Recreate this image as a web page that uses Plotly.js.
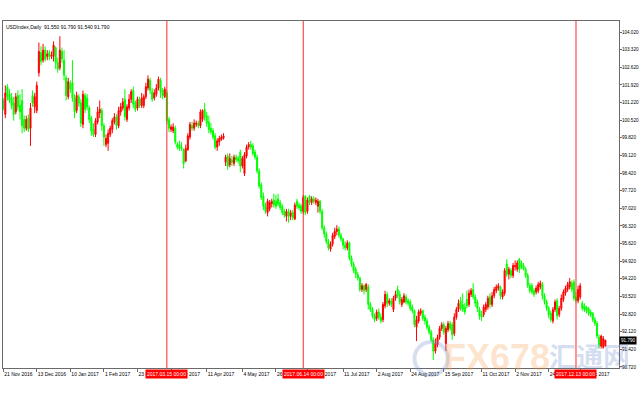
<!DOCTYPE html>
<html>
<head>
<meta charset="utf-8">
<script src="https://cdn.plot.ly/plotly-3.0.1.min.js"></script>
<style>html,body{margin:0;padding:0;background:#fff;}#chart{width:640px;height:400px;}</style>
</head>
<body>
<div id="chart"></div>
<script>
// ---- data (USDIndex, Daily) ----
const firstDay = '2016-11-17';
const holidays = ['2016-12-23','2016-12-26','2016-12-30','2017-01-02','2017-12-25','2018-01-01'];

const open = [101.10,101.45,101.30,100.75,101.85,101.55,101.40,101.20,100.85,101.50,
101.10,101.30,100.55,100.20,100.60,100.20,101.50,101.05,100.90,102.40,
103.20,102.90,103.30,103.05,103.20,103.05,103.05,103.40,102.80,102.60,
103.25,102.90,102.20,101.45,102.00,102.00,101.40,100.90,101.45,101.20,
100.35,101.50,101.40,101.00,100.60,100.15,99.95,100.45,100.80,100.90,
100.30,99.55,99.60,99.95,100.15,100.45,100.65,100.30,100.85,101.00,
101.35,100.55,101.00,101.35,101.70,101.20,101.00,101.35,101.10,101.10,
101.45,101.80,102.10,101.65,101.40,101.55,101.80,102.10,101.70,101.45,
101.60,100.55,100.15,100.10,100.20,99.55,99.55,99.45,99.35,98.90,
99.35,99.85,100.30,100.20,100.35,100.40,100.30,100.55,100.95,100.70,
100.45,100.20,100.10,99.90,99.45,99.65,99.75,99.80,98.85,99.10,
98.75,98.95,98.80,99.05,99.00,99.25,98.70,98.40,99.10,99.45,
99.55,99.50,99.25,99.05,98.50,97.95,97.50,97.10,96.85,97.00,
97.20,97.35,97.30,97.40,97.25,97.10,96.90,96.70,96.90,96.70,
96.85,96.60,97.30,97.15,97.10,96.90,97.50,96.90,97.50,97.25,
97.40,97.25,97.10,97.30,96.90,96.25,96.00,95.70,95.40,95.60,
95.90,96.10,96.20,95.95,95.80,95.55,95.45,95.65,95.05,94.80,
94.60,94.40,94.25,93.80,93.95,93.80,93.90,93.20,93.00,92.75,
92.65,92.90,92.70,92.60,93.15,93.60,93.25,93.35,93.00,93.45,
93.80,93.60,93.20,93.30,93.50,93.35,93.30,93.10,92.95,92.30,
92.55,92.85,92.95,92.70,92.55,92.30,92.10,91.80,91.35,91.60,
91.90,92.25,92.40,91.65,92.20,92.45,92.40,92.05,92.70,93.00,
93.35,93.20,93.10,93.40,93.20,93.60,93.80,93.50,93.30,93.00,
92.80,92.80,93.00,93.10,93.50,93.20,93.55,93.75,93.85,93.90,
93.50,93.65,94.80,94.40,94.55,94.35,94.70,94.60,95.00,94.85,
94.75,94.60,94.35,93.95,93.95,93.75,93.70,93.75,93.90,94.00,
93.55,93.30,93.05,92.85,92.55,93.00,93.35,92.80,93.05,93.40,
93.65,93.80,93.90,94.05,94.10,93.50,93.35,93.50,93.25,93.15,
93.10,93.05,92.90,92.85,92.60,92.45,91.90,91.55,91.50,91.55];

const high = [101.50,101.55,101.40,101.90,101.95,101.75,101.60,101.45,101.60,101.70,
101.55,101.75,100.70,100.70,100.75,101.20,101.70,101.60,102.05,103.60,
103.45,103.55,103.45,103.30,103.30,103.25,103.65,103.45,103.00,103.85,
103.40,103.30,102.30,102.20,102.10,102.90,101.55,101.65,101.55,101.35,
101.70,101.60,101.55,101.10,100.70,100.40,100.60,101.05,101.30,101.00,
100.40,99.95,100.15,100.30,100.60,100.80,100.75,101.05,101.20,101.40,
101.75,101.15,101.55,101.75,101.85,101.30,101.45,101.45,101.60,101.55,
102.00,102.30,102.20,101.80,101.75,101.95,102.25,102.20,101.80,101.85,
101.70,100.65,100.35,100.40,100.30,99.65,99.70,99.65,99.40,99.55,
100.00,100.45,100.45,100.55,100.50,100.50,100.95,100.95,101.20,100.85,
100.70,100.40,100.20,100.00,99.80,99.90,99.95,100.00,99.15,99.20,
99.20,99.10,99.15,99.15,99.10,99.35,99.10,99.25,99.55,99.65,
99.70,99.60,99.35,99.15,98.60,98.05,97.65,97.25,97.40,97.35,
97.40,97.60,97.55,97.60,97.35,97.20,97.00,97.00,97.00,96.95,
96.95,97.25,97.40,97.25,97.20,97.55,97.55,97.45,97.55,97.50,
97.50,97.45,97.40,97.35,97.00,96.35,96.10,95.80,95.70,96.05,
96.25,96.35,96.30,96.05,95.85,95.70,95.75,95.70,95.15,94.90,
94.70,94.50,94.30,94.05,94.00,94.05,94.00,93.30,93.10,92.85,
93.00,93.05,92.85,93.30,93.75,93.70,93.45,93.45,93.55,93.75,
93.95,93.75,93.50,93.65,93.60,93.45,93.40,93.20,93.00,92.75,
93.00,93.05,93.00,92.80,92.65,92.40,92.20,91.90,91.85,92.00,
92.35,92.50,92.50,92.35,92.55,92.55,92.50,92.85,93.10,93.40,
93.50,93.65,93.25,93.75,93.80,93.85,94.05,93.60,93.40,93.10,
92.95,93.20,93.30,93.55,93.65,93.70,93.90,94.00,94.05,93.95,
93.80,94.65,95.00,94.70,94.65,94.85,94.95,94.95,95.05,94.95,
94.85,94.70,94.45,94.05,94.05,93.85,93.95,94.10,94.15,94.10,
93.65,93.40,93.15,92.95,93.10,93.40,93.45,93.15,93.60,93.80,
93.95,94.10,94.25,94.15,94.20,93.70,93.95,94.05,93.35,93.25,
93.15,93.10,93.00,92.90,92.70,92.55,92.00,92.00,91.95,91.79];

const low = [101.00,101.10,100.90,100.60,101.30,101.20,100.95,100.50,100.75,100.90,
100.55,100.00,100.05,100.10,100.05,99.50,101.05,100.80,100.80,102.25,
102.70,102.80,102.85,102.90,102.90,102.95,102.85,102.55,102.40,102.50,
102.80,102.10,101.30,101.35,101.60,101.25,100.60,100.80,101.05,100.25,
100.20,100.80,100.90,100.40,99.90,99.85,99.85,100.35,100.60,100.10,
99.50,99.45,99.30,99.85,100.00,100.35,100.15,100.20,100.70,100.90,
100.50,100.45,100.90,101.20,101.00,100.85,100.90,101.00,101.00,101.00,
101.35,101.70,101.55,101.25,101.30,101.45,101.70,101.40,101.35,101.40,
100.35,100.05,100.05,100.00,99.55,99.35,99.30,99.30,98.60,98.85,
99.30,99.75,100.10,100.10,100.25,100.20,100.20,100.45,100.50,100.25,
100.00,99.95,99.75,99.35,99.30,99.50,99.70,99.75,98.70,98.55,
98.65,98.70,98.70,98.85,98.80,98.45,98.60,98.30,99.00,99.35,
99.35,99.10,98.95,98.40,97.80,97.35,96.95,96.80,96.70,96.90,
97.05,97.05,97.00,97.10,96.95,96.75,96.65,96.50,96.45,96.55,
96.55,96.55,97.00,96.95,96.80,96.80,96.75,96.80,97.15,97.15,
97.20,97.15,96.85,96.80,96.15,95.85,95.60,95.35,95.30,95.50,
95.80,95.95,95.85,95.70,95.40,95.35,95.35,94.95,94.70,94.45,
94.25,94.15,93.70,93.70,93.60,93.70,93.00,92.90,92.65,92.50,
92.55,92.60,92.45,92.50,93.05,93.10,93.15,93.10,92.90,93.35,
93.45,93.20,93.10,93.25,93.20,93.15,92.95,92.85,92.30,91.75,
92.45,92.75,92.55,92.40,92.20,92.00,91.70,91.00,91.25,91.50,
91.80,92.15,92.00,91.35,92.10,92.15,91.80,91.95,92.60,92.90,
92.95,92.90,92.80,93.05,93.10,93.50,93.40,93.10,92.90,92.60,
92.55,92.70,92.90,93.00,93.05,93.10,93.45,93.65,93.75,93.40,
93.40,93.55,94.30,94.20,94.25,94.25,94.55,94.50,94.45,94.60,
94.55,94.25,93.85,93.65,93.60,93.50,93.60,93.65,93.80,93.40,
93.20,92.95,92.65,92.50,92.45,92.90,92.60,92.70,92.95,93.30,
93.55,93.70,93.80,93.70,93.35,93.25,93.25,93.40,92.95,92.90,
92.85,92.75,92.70,92.50,92.35,91.85,91.45,91.45,91.45,91.54];

const close = [101.35,101.25,101.00,101.60,101.45,101.30,101.10,100.75,101.45,101.05,
100.85,100.30,100.20,100.55,100.15,101.00,101.20,101.45,101.90,103.25,
102.85,103.30,102.95,103.15,103.05,103.10,103.50,102.80,102.55,103.30,
102.95,102.30,101.50,102.05,101.75,101.40,100.85,101.50,101.20,100.40,
101.55,100.95,101.05,100.55,100.10,99.95,100.50,100.85,100.95,100.30,
99.85,99.80,100.00,100.20,100.50,100.65,100.30,100.90,101.05,101.25,
100.65,101.05,101.35,101.65,101.15,100.95,101.35,101.10,101.40,101.45,
101.85,102.15,101.70,101.35,101.60,101.80,102.15,101.65,101.50,101.75,
100.50,100.20,100.25,100.25,99.65,99.45,99.40,99.40,98.80,99.40,
99.90,100.35,100.20,100.40,100.40,100.30,100.85,100.90,100.65,100.40,
100.15,100.05,99.85,99.45,99.70,99.80,99.85,99.90,99.05,98.70,
99.00,98.85,99.05,98.95,98.90,98.70,99.00,99.15,99.45,99.55,
99.45,99.20,99.05,98.50,97.90,97.45,97.10,96.90,97.30,97.25,
97.30,97.15,97.10,97.20,97.05,96.85,96.75,96.90,96.70,96.85,
96.65,97.15,97.10,97.05,96.90,97.45,96.85,97.35,97.25,97.40,
97.30,97.35,97.30,96.90,96.25,96.00,95.70,95.45,95.60,95.95,
96.10,96.20,95.95,95.80,95.55,95.45,95.65,95.05,94.80,94.55,
94.40,94.25,93.80,93.95,93.75,94.00,93.20,93.00,92.75,92.60,
92.90,92.70,92.55,93.20,93.60,93.25,93.35,93.20,93.45,93.60,
93.55,93.30,93.40,93.55,93.30,93.25,93.05,92.95,92.40,92.60,
92.90,92.95,92.65,92.55,92.30,92.10,91.80,91.35,91.65,91.90,
92.25,92.40,92.10,92.25,92.45,92.25,92.00,92.70,93.00,93.25,
93.05,93.00,92.90,93.15,93.65,93.75,93.50,93.25,93.05,92.75,
92.70,93.10,93.20,93.45,93.20,93.55,93.80,93.90,93.95,93.55,
93.70,94.55,94.40,94.60,94.35,94.75,94.75,94.85,94.60,94.70,
94.60,94.35,93.95,93.75,93.70,93.60,93.85,94.00,94.05,93.55,
93.30,93.05,92.80,92.60,93.00,93.30,92.75,93.05,93.45,93.70,
93.85,94.00,94.10,93.80,93.45,93.35,93.80,93.95,93.05,93.00,
92.95,92.85,92.80,92.60,92.45,91.95,91.60,91.95,91.85,91.79];

const tickDates  = ['2016-11-21','2016-12-13','2017-01-10','2017-02-01','2017-02-23','2017-03-17',
                    '2017-04-11','2017-05-04','2017-05-26','2017-06-16','2017-07-11','2017-08-02',
                    '2017-08-24','2017-09-15','2017-10-11','2017-11-02','2017-11-24','2017-12-15'];
const tickLabels = ['21 Nov 2016','13 Dec 2016','10 Jan 2017','1 Feb 2017','23 Feb 2017','17 Mar 2017',
                    '11 Apr 2017','4 May 2017','26 May 2017','16 Jun 2017','11 Jul 2017','2 Aug 2017',
                    '24 Aug 2017','15 Sep 2017','11 Oct 2017','2 Nov 2017','24 Nov 2017','15 Dec 2017'];
const lineDates  = ['2017-03-15','2017-06-14','2017-12-13'];
const lineLabels = ['2017.03.15 00:00','2017.06.14 00:00','2017.12.13 00:00'];
const chartTitle = 'USDIndex,Daily  91.550 91.790 91.540 91.790';
const lastPrice = 91.790;

// ---- trading calendar (weekdays without holiday sessions) ----
const dates = [];
{
  const d = new Date(firstDay + 'T00:00:00Z');
  while (dates.length < close.length) {
    const wd = d.getUTCDay();
    const s = d.toISOString().slice(0, 10);
    if (wd !== 0 && wd !== 6 && holidays.indexOf(s) < 0) dates.push(s);
    d.setUTCDate(d.getUTCDate() + 1);
  }
}

const FONT = 'Liberation Sans, Arial, sans-serif';
const trace = {
  type: 'candlestick',
  x: dates, open: open, high: high, low: low, close: close,
  increasing: {line: {color: '#ff0000', width: 1}, fillcolor: '#ff0000'},
  decreasing: {line: {color: '#00ff00', width: 1}, fillcolor: '#00ff00'},
  whiskerwidth: 0,
  hoverinfo: 'skip',
  showlegend: false
};

const shapes = lineDates.map(d => ({
  type: 'line', xref: 'x', yref: 'paper',
  x0: dates.indexOf(d), x1: dates.indexOf(d), y0: 0, y1: 1,
  line: {color: '#ff2a2a', width: 1}, layer: 'above'
}));
shapes.push({type: 'circle', xref: 'paper', yref: 'paper',
  x0: 0.668, x1: 0.722, y0: -0.02, y1: 0.075,
  line: {color: 'rgba(110,140,205,0.28)', width: 4}});

const annotations = lineDates.map((d, k) => ({
  xref: 'x', x: dates.indexOf(d), xanchor: 'center', yref: 'paper', y: -0.0175, yanchor: 'middle',
  text: lineLabels[k], showarrow: false, bgcolor: '#ff0000', borderpad: 1,
  font: {family: FONT, size: 5, color: '#ffffff'}
}));
annotations.push({
  xref: 'paper', x: 0, xanchor: 'left', xshift: 1, yref: 'paper', y: 1, yanchor: 'top', yshift: -1,
  text: chartTitle, showarrow: false, font: {family: FONT, size: 5, color: '#000000'}
});
annotations.push({
  xref: 'paper', x: 1, xanchor: 'left', xshift: 0, yref: 'y', y: lastPrice, yanchor: 'middle',
  text: lastPrice.toFixed(3), showarrow: false, bgcolor: '#000000', borderpad: 1,
  font: {family: FONT, size: 4.6, color: '#ffffff'}
});
annotations.push({
  xref: 'paper', x: 0.802, xanchor: 'center', yref: 'paper', y: 0.03, yanchor: 'middle',
  text: '<b>FX678</b>', showarrow: false,
  font: {family: 'Liberation Sans Narrow, Liberation Sans, sans-serif', size: 36, color: 'rgba(245,150,60,0.26)'}
});
annotations.push({
  xref: 'paper', x: 0.952, xanchor: 'center', yref: 'paper', y: 0.035, yanchor: 'middle',
  text: '<b>汇通网</b>', showarrow: false,
  font: {family: 'Noto Sans CJK SC, sans-serif', size: 27, color: 'rgba(90,125,200,0.26)'}
});

const layout = {
  width: 640, height: 400,
  margin: {l: 3, r: 21, t: 21, b: 32, pad: 0},
  paper_bgcolor: '#ffffff', plot_bgcolor: '#ffffff',
  showlegend: false,
  font: {family: FONT, size: 5, color: '#000000'},
  xaxis: {
    type: 'category', range: [1.9, 295.5],
    rangeslider: {visible: false},
    showgrid: false, zeroline: false,
    showline: true, mirror: true, linecolor: '#6a6a6a', linewidth: 1,
    ticks: 'outside', ticklen: 3, tickcolor: '#6a6a6a', tickwidth: 1,
    tickmode: 'array', tickvals: tickDates, ticktext: tickLabels,
    tickangle: 0,
    ticklabelposition: 'outside right',
    ticklabelstandoff: 1,
    tickfont: {family: FONT, size: 5, color: '#000000'},
    fixedrange: true
  },
  yaxis: {
    side: 'right', range: [90.68, 104.457],
    tickmode: 'linear', tick0: 90.72, dtick: 0.7, tickformat: '.3f',
    showgrid: false, zeroline: false,
    showline: true, mirror: true, linecolor: '#6a6a6a', linewidth: 1,
    ticks: 'outside', ticklen: 2, tickcolor: '#6a6a6a', tickwidth: 1,
    ticklabelstandoff: -1,
    tickfont: {family: FONT, size: 4.6, color: '#000000'},
    fixedrange: true
  },
  shapes: shapes,
  annotations: annotations
};

Plotly.newPlot('chart', [trace], layout, {staticPlot: true, displayModeBar: false});
</script>
</body>
</html>
